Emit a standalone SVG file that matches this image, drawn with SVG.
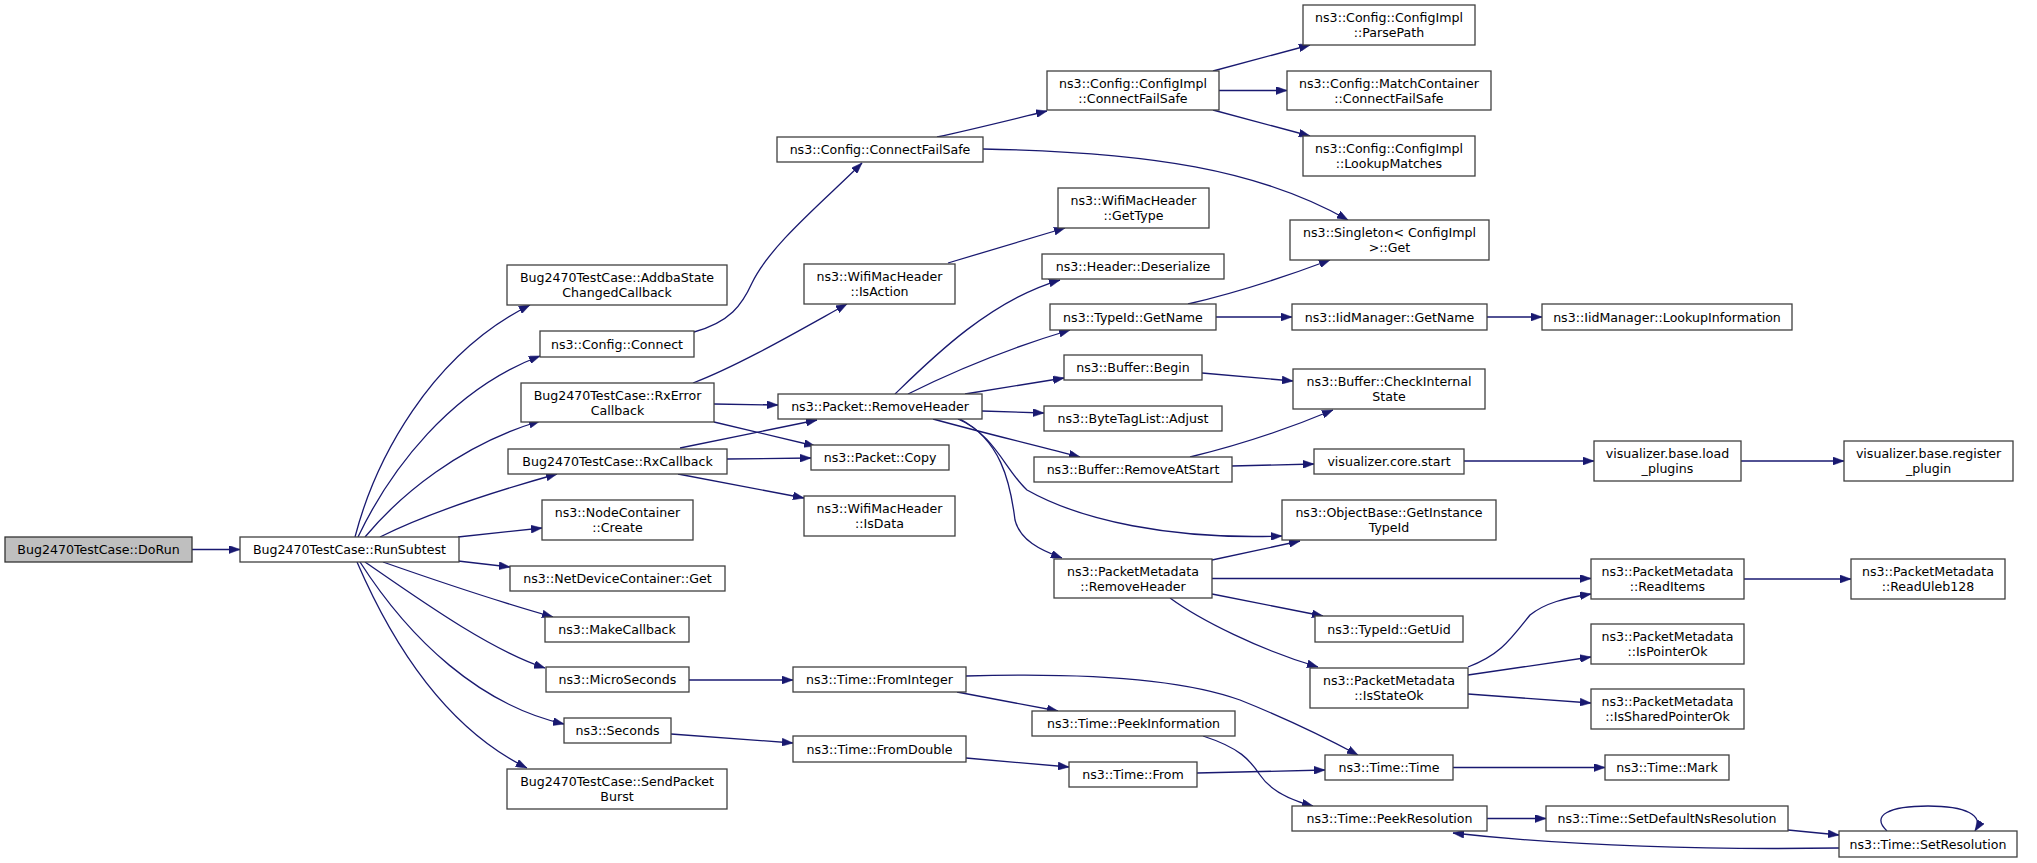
<svg xmlns="http://www.w3.org/2000/svg" width="2037" height="863" viewBox="0 0 2037 863">
<style>
.n rect{fill:#ffffff;stroke:#404040;stroke-width:1.3}
.root rect{fill:#bfbfbf;stroke:#333333}
.n text{font-family:"DejaVu Sans",sans-serif;font-size:12.6px;fill:#000;text-anchor:middle}
#edges path{fill:none;stroke:#191970;stroke-width:1.3;marker-end:url(#ah)}
</style>
<defs>
<marker id="ah" markerUnits="userSpaceOnUse" viewBox="0 0 11 8" refX="11" refY="4" markerWidth="11" markerHeight="8" orient="auto">
<path d="M0,0 L11,4 L0,8 Z" fill="#191970" stroke="#191970" stroke-width="0.5"/>
</marker>
</defs>
<rect width="2037" height="863" fill="#ffffff"/>
<g id="edges">
<path d="M192,549.5 L240,549.5"/>
<path d="M355,537 C375,460 430,355 530,305"/>
<path d="M358,537 C390,470 450,390 540,356"/>
<path d="M365,537 C400,495 460,445 540,421"/>
<path d="M380,537 C430,512 500,490 557,474"/>
<path d="M458,537 L542,528"/>
<path d="M458,561 L510,567"/>
<path d="M383,562 C440,582 500,602 553,617"/>
<path d="M365,562 C420,600 490,650 545,668"/>
<path d="M360,562 C410,640 480,705 564,724"/>
<path d="M357,562 C395,650 450,730 527,768"/>
<path d="M694,332 C730,322 742,305 752,283 C770,245 825,200 862,163"/>
<path d="M693,383 C740,365 800,330 847,304"/>
<path d="M714,404 L778,405"/>
<path d="M714,422 L815,446"/>
<path d="M680,448 L817,420"/>
<path d="M727,459 L811,458"/>
<path d="M678,474 L804,498"/>
<path d="M937,137 C970,130 1010,120 1047,111"/>
<path d="M983,149 C1150,152 1260,170 1348,220"/>
<path d="M1213,71 L1310,45"/>
<path d="M1219,90.5 L1287,90.5"/>
<path d="M1213,110 L1310,136"/>
<path d="M948,263 L1065,228"/>
<path d="M895,394 C930,360 990,300 1060,280"/>
<path d="M908,394 C960,368 1010,348 1070,330"/>
<path d="M965,394 L1064,378"/>
<path d="M982,411 L1044,413"/>
<path d="M933,419 C980,432 1030,444 1080,457"/>
<path d="M958,419 C995,435 1005,470 1027,490 C1080,520 1170,540 1282,536"/>
<path d="M960,419 C1000,440 1010,480 1015,520 C1020,540 1040,550 1062,558"/>
<path d="M1188,304 C1240,292 1290,275 1330,260"/>
<path d="M1216,317 L1292,317"/>
<path d="M1487,317 L1542,317"/>
<path d="M1202,373 L1293,381"/>
<path d="M1190,457 C1240,445 1290,428 1333,410"/>
<path d="M1232,466 L1314,464"/>
<path d="M1464,461 L1594,461"/>
<path d="M1741,461 L1844,461"/>
<path d="M1212,560 L1300,541"/>
<path d="M1212,578.5 L1591,578.5"/>
<path d="M1212,594 L1323,616"/>
<path d="M1170,598 C1200,620 1260,650 1318,667"/>
<path d="M1468,667 C1500,655 1510,640 1530,615 C1545,603 1565,598 1591,594"/>
<path d="M1468,675 L1591,657"/>
<path d="M1468,694 L1591,703"/>
<path d="M1744,579 L1851,579"/>
<path d="M689,680 L793,680"/>
<path d="M671,734 L793,743"/>
<path d="M966,676 C1100,672 1190,682 1240,700 C1290,720 1330,740 1358,755"/>
<path d="M957,692 L1058,711"/>
<path d="M966,758 L1069,767"/>
<path d="M1197,773 L1325,770"/>
<path d="M1203,736 C1240,748 1250,760 1260,775 C1270,790 1290,800 1313,806"/>
<path d="M1453,767.5 L1605,767.5"/>
<path d="M1487,818.5 L1546,818.5"/>
<path d="M1788,830 L1839,835"/>
<path d="M1839,848 C1700,850 1560,845 1453,833"/>
<path d="M1887,831 C1870,815 1890,806 1928,806 C1965,806 1985,815 1975,831"/>
</g>
<g id="n_DoRun" class="n root"><rect x="5" y="537" width="187" height="25"/><text x="98.5" y="554">Bug2470TestCase::DoRun</text></g>
<g id="n_RunSubtest" class="n"><rect x="240" y="537" width="219" height="25"/><text x="349.5" y="554">Bug2470TestCase::RunSubtest</text></g>
<g id="n_Addba" class="n"><rect x="507" y="265" width="220" height="40"/><text x="617" y="282">Bug2470TestCase::AddbaState</text><text x="617" y="297">ChangedCallback</text></g>
<g id="n_Connect" class="n"><rect x="540" y="331" width="154" height="26"/><text x="617" y="348.5">ns3::Config::Connect</text></g>
<g id="n_RxError" class="n"><rect x="521" y="383" width="193" height="39"/><text x="617.5" y="399.5">Bug2470TestCase::RxError</text><text x="617.5" y="414.5">Callback</text></g>
<g id="n_RxCallback" class="n"><rect x="508" y="449" width="219" height="25"/><text x="617.5" y="466">Bug2470TestCase::RxCallback</text></g>
<g id="n_NodeCreate" class="n"><rect x="542" y="500" width="151" height="40"/><text x="617.5" y="517">ns3::NodeContainer</text><text x="617.5" y="532">::Create</text></g>
<g id="n_NDCGet" class="n"><rect x="510" y="566" width="215" height="25"/><text x="617.5" y="583">ns3::NetDeviceContainer::Get</text></g>
<g id="n_MakeCallback" class="n"><rect x="545" y="617" width="144" height="25"/><text x="617" y="634">ns3::MakeCallback</text></g>
<g id="n_MicroSeconds" class="n"><rect x="546" y="667" width="143" height="25"/><text x="617.5" y="684">ns3::MicroSeconds</text></g>
<g id="n_Seconds" class="n"><rect x="564" y="718" width="107" height="25"/><text x="617.5" y="735">ns3::Seconds</text></g>
<g id="n_SendBurst" class="n"><rect x="507" y="769" width="220" height="40"/><text x="617" y="786">Bug2470TestCase::SendPacket</text><text x="617" y="801">Burst</text></g>
<g id="n_ConnectFailSafe" class="n"><rect x="777" y="137" width="206" height="25"/><text x="880" y="154">ns3::Config::ConnectFailSafe</text></g>
<g id="n_IsAction" class="n"><rect x="804" y="264" width="151" height="40"/><text x="879.5" y="281">ns3::WifiMacHeader</text><text x="879.5" y="296">::IsAction</text></g>
<g id="n_RemoveHeader" class="n"><rect x="778" y="394" width="204" height="25"/><text x="880" y="411">ns3::Packet::RemoveHeader</text></g>
<g id="n_Copy" class="n"><rect x="811" y="445" width="138" height="25"/><text x="880" y="462">ns3::Packet::Copy</text></g>
<g id="n_IsData" class="n"><rect x="804" y="496" width="151" height="40"/><text x="879.5" y="513">ns3::WifiMacHeader</text><text x="879.5" y="528">::IsData</text></g>
<g id="n_FromInteger" class="n"><rect x="793" y="667" width="173" height="25"/><text x="879.5" y="684">ns3::Time::FromInteger</text></g>
<g id="n_FromDouble" class="n"><rect x="793" y="736" width="173" height="26"/><text x="879.5" y="753.5">ns3::Time::FromDouble</text></g>
<g id="n_ParsePath" class="n"><rect x="1303" y="5" width="172" height="40"/><text x="1389" y="22">ns3::Config::ConfigImpl</text><text x="1389" y="37">::ParsePath</text></g>
<g id="n_ImplConnectFailSafe" class="n"><rect x="1047" y="71" width="172" height="39"/><text x="1133" y="87.5">ns3::Config::ConfigImpl</text><text x="1133" y="102.5">::ConnectFailSafe</text></g>
<g id="n_MatchContainer" class="n"><rect x="1287" y="71" width="204" height="39"/><text x="1389" y="87.5">ns3::Config::MatchContainer</text><text x="1389" y="102.5">::ConnectFailSafe</text></g>
<g id="n_LookupMatches" class="n"><rect x="1303" y="136" width="172" height="40"/><text x="1389" y="153">ns3::Config::ConfigImpl</text><text x="1389" y="168">::LookupMatches</text></g>
<g id="n_GetType" class="n"><rect x="1058" y="188" width="151" height="40"/><text x="1133.5" y="205">ns3::WifiMacHeader</text><text x="1133.5" y="220">::GetType</text></g>
<g id="n_Singleton" class="n"><rect x="1290" y="220" width="199" height="40"/><text x="1389.5" y="237">ns3::Singleton&lt; ConfigImpl</text><text x="1389.5" y="252">&gt;::Get</text></g>
<g id="n_Deserialize" class="n"><rect x="1042" y="254" width="182" height="25"/><text x="1133" y="271">ns3::Header::Deserialize</text></g>
<g id="n_TypeIdGetName" class="n"><rect x="1050" y="304" width="166" height="26"/><text x="1133" y="321.5">ns3::TypeId::GetName</text></g>
<g id="n_IidGetName" class="n"><rect x="1292" y="304" width="195" height="26"/><text x="1389.5" y="321.5">ns3::IidManager::GetName</text></g>
<g id="n_LookupInformation" class="n"><rect x="1542" y="304" width="250" height="26"/><text x="1667" y="321.5">ns3::IidManager::LookupInformation</text></g>
<g id="n_Begin" class="n"><rect x="1064" y="355" width="138" height="25"/><text x="1133" y="372">ns3::Buffer::Begin</text></g>
<g id="n_CheckInternal" class="n"><rect x="1293" y="369" width="192" height="40"/><text x="1389" y="386">ns3::Buffer::CheckInternal</text><text x="1389" y="401">State</text></g>
<g id="n_Adjust" class="n"><rect x="1044" y="406" width="178" height="25"/><text x="1133" y="423">ns3::ByteTagList::Adjust</text></g>
<g id="n_RemoveAtStart" class="n"><rect x="1034" y="457" width="198" height="25"/><text x="1133" y="474">ns3::Buffer::RemoveAtStart</text></g>
<g id="n_CoreStart" class="n"><rect x="1314" y="449" width="150" height="25"/><text x="1389" y="466">visualizer.core.start</text></g>
<g id="n_GetInstanceTypeId" class="n"><rect x="1282" y="500" width="214" height="40"/><text x="1389" y="517">ns3::ObjectBase::GetInstance</text><text x="1389" y="532">TypeId</text></g>
<g id="n_PMRemoveHeader" class="n"><rect x="1054" y="559" width="158" height="39"/><text x="1133" y="575.5">ns3::PacketMetadata</text><text x="1133" y="590.5">::RemoveHeader</text></g>
<g id="n_GetUid" class="n"><rect x="1315" y="616" width="148" height="26"/><text x="1389" y="633.5">ns3::TypeId::GetUid</text></g>
<g id="n_IsStateOk" class="n"><rect x="1310" y="668" width="158" height="40"/><text x="1389" y="685">ns3::PacketMetadata</text><text x="1389" y="700">::IsStateOk</text></g>
<g id="n_PeekInformation" class="n"><rect x="1032" y="711" width="203" height="25"/><text x="1133.5" y="728">ns3::Time::PeekInformation</text></g>
<g id="n_From" class="n"><rect x="1069" y="762" width="128" height="25"/><text x="1133" y="779">ns3::Time::From</text></g>
<g id="n_Time" class="n"><rect x="1325" y="755" width="128" height="25"/><text x="1389" y="772">ns3::Time::Time</text></g>
<g id="n_PeekResolution" class="n"><rect x="1292" y="806" width="195" height="25"/><text x="1389.5" y="823">ns3::Time::PeekResolution</text></g>
<g id="n_LoadPlugins" class="n"><rect x="1594" y="441" width="147" height="40"/><text x="1667.5" y="458">visualizer.base.load</text><text x="1667.5" y="473">_plugins</text></g>
<g id="n_RegisterPlugin" class="n"><rect x="1844" y="441" width="169" height="40"/><text x="1928.5" y="458">visualizer.base.register</text><text x="1928.5" y="473">_plugin</text></g>
<g id="n_ReadItems" class="n"><rect x="1591" y="559" width="153" height="40"/><text x="1667.5" y="576">ns3::PacketMetadata</text><text x="1667.5" y="591">::ReadItems</text></g>
<g id="n_ReadUleb128" class="n"><rect x="1851" y="559" width="154" height="40"/><text x="1928" y="576">ns3::PacketMetadata</text><text x="1928" y="591">::ReadUleb128</text></g>
<g id="n_IsPointerOk" class="n"><rect x="1591" y="624" width="153" height="40"/><text x="1667.5" y="641">ns3::PacketMetadata</text><text x="1667.5" y="656">::IsPointerOk</text></g>
<g id="n_IsSharedPointerOk" class="n"><rect x="1591" y="689" width="153" height="40"/><text x="1667.5" y="706">ns3::PacketMetadata</text><text x="1667.5" y="721">::IsSharedPointerOk</text></g>
<g id="n_Mark" class="n"><rect x="1605" y="755" width="124" height="25"/><text x="1667" y="772">ns3::Time::Mark</text></g>
<g id="n_SetDefaultNs" class="n"><rect x="1546" y="806" width="242" height="25"/><text x="1667" y="823">ns3::Time::SetDefaultNsResolution</text></g>
<g id="n_SetResolution" class="n"><rect x="1839" y="831" width="178" height="26"/><text x="1928" y="848.5">ns3::Time::SetResolution</text></g>
</svg>
